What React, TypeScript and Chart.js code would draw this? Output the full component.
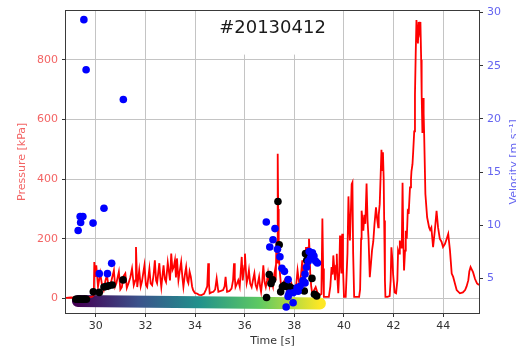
import React, { useEffect, useRef } from "react";
import { Chart, registerables } from "chart.js";

Chart.register(...registerables);

// ---------- data ----------
const pressureTimes = [
  28.8, 29.0, 29.3, 29.6, 29.84, 29.92, 29.94, 29.98, 30.02, 30.09, 30.18, 30.25, 30.32, 30.39, 30.45, 30.52,
  30.59, 30.66, 30.73, 30.78, 30.83, 30.93, 30.99, 31.05, 31.12, 31.19, 31.25, 31.32, 31.39, 31.46, 31.53, 31.59,
  31.62, 31.67, 31.75, 31.81, 31.86, 31.96, 32.02, 32.07, 32.16, 32.21, 32.27, 32.33, 32.38, 32.43, 32.47, 32.56,
  32.6, 32.64, 32.73, 32.78, 32.83, 32.9, 32.94, 32.99, 33.04, 33.09, 33.14, 33.19, 33.23, 33.27, 33.33, 33.38,
  33.44, 33.49, 33.53, 33.59, 33.64, 33.69, 33.73, 33.78, 33.83, 33.88, 33.92, 33.99, 34.06, 34.16, 34.26, 34.36,
  34.43, 34.49, 34.53, 34.56, 34.59, 34.66, 34.74, 34.81, 34.87, 34.91, 34.94, 35.04, 35.13, 35.19, 35.23, 35.26,
  35.29, 35.39, 35.47, 35.53, 35.57, 35.6, 35.63, 35.69, 35.74, 35.8, 35.84, 35.88, 35.92, 35.95, 35.99, 36.01,
  36.05, 36.08, 36.13, 36.17, 36.22, 36.28, 36.33, 36.39, 36.44, 36.49, 36.54, 36.58, 36.62, 36.66, 36.71, 36.75,
  36.8, 36.85, 36.9, 36.94, 37.0, 37.04, 37.08, 37.14, 37.18, 37.22, 37.25, 37.28, 37.31, 37.33, 37.35, 37.37,
  37.42, 37.48, 37.53, 37.61, 37.67, 37.75, 37.81, 37.88, 37.95, 38.02, 38.08, 38.13, 38.18, 38.22, 38.28, 38.32,
  38.36, 38.4, 38.44, 38.47, 38.5, 38.53, 38.56, 38.59, 38.62, 38.64, 38.68, 38.72, 38.78, 38.86, 38.93, 39.02,
  39.09, 39.13, 39.16, 39.19, 39.27, 39.39, 39.45, 39.5, 39.54, 39.57, 39.61, 39.64, 39.68, 39.71, 39.74, 39.77,
  39.81, 39.84, 39.87, 39.9, 39.93, 39.96, 40.0, 40.07, 40.14, 40.18, 40.21, 40.24, 40.28, 40.31, 40.34, 40.37,
  40.41, 40.51, 40.61, 40.65, 40.69, 40.71, 40.75, 40.78, 40.82, 40.86, 40.91, 40.95, 40.99, 41.04, 41.09, 41.13,
  41.18, 41.23, 41.29, 41.33, 41.38, 41.4, 41.44, 41.48, 41.51, 41.54, 41.57, 41.6, 41.62, 41.65, 41.67, 41.75,
  41.84, 41.88, 41.91, 41.95, 41.98, 42.04, 42.1, 42.15, 42.18, 42.22, 42.25, 42.3, 42.33, 42.36, 42.39, 42.42,
  42.46, 42.49, 42.53, 42.57, 42.61, 42.66, 42.7, 42.72, 42.76, 42.79, 42.83, 42.86, 42.89, 42.92, 42.95, 42.98,
  43.01, 43.04, 43.08, 43.11, 43.13, 43.16, 43.19, 43.21, 43.23, 43.28, 43.35, 43.43, 43.47, 43.52, 43.59, 43.66,
  43.73, 43.79, 43.86, 43.93, 43.99, 44.07, 44.14, 44.2, 44.27, 44.34, 44.4, 44.47, 44.54, 44.67, 44.79, 44.88,
  44.94, 45.01, 45.05, 45.1, 45.2, 45.28, 45.36, 45.44,
];
const pressureValues = [
  2, 3, 2, 4, 5, 10, 122, 72, 111, 39, 84, 45, 28, 60, 78, 35,
  44, 70, 94, 40, 51, 89, 30, 38, 75, 84, 35, 51, 70, 100, 44, 60,
  172, 38, 94, 40, 56, 111, 45, 38, 100, 50, 44, 80, 128, 60, 51, 118,
  70, 38, 111, 65, 55, 120, 94, 60, 150, 95, 105, 128, 70, 134, 61, 90,
  122, 70, 39, 80, 105, 60, 51, 90, 72, 40, 28, 18, 17, 12, 11, 15,
  28, 40, 118, 50, 17, 20, 22, 30, 67, 40, 22, 25, 28, 40, 72, 45,
  22, 25, 33, 60, 118, 70, 38, 50, 61, 40, 90, 139, 60, 84, 110, 150,
  90, 51, 70, 94, 50, 38, 60, 84, 45, 33, 55, 72, 40, 22, 60, 111,
  55, 38, 60, 84, 45, 70, 61, 40, 75, 94, 60, 194, 120, 485, 300, 150,
  84, 28, 50, 61, 35, 17, 40, 51, 30, 28, 50, 94, 60, 38, 90, 128,
  80, 61, 120, 172, 140, 105, 170, 200, 150, 84, 40, 17, 25, 38, 20, 11,
  15, 268, 100, 5, 5, 5, 40, 105, 80, 144, 100, 61, 110, 150, 60, 17,
  90, 211, 130, 84, 217, 104, 5, 5, 150, 342, 250, 194, 300, 383, 389, 150,
  5, 5, 5, 30, 200, 294, 260, 227, 280, 250, 385, 261, 200, 71, 120, 161,
  190, 250, 305, 270, 238, 280, 316, 420, 498, 430, 490, 400, 261, 60, 5, 5,
  8, 60, 171, 130, 80, 20, 17, 60, 161, 150, 194, 170, 183, 388, 200, 94,
  160, 227, 200, 294, 290, 372, 400, 427, 450, 494, 560, 683, 820, 933, 890, 855,
  927, 900, 927, 800, 683, 555, 672, 620, 551, 350, 272, 238, 230, 238, 172, 227,
  294, 238, 200, 190, 172, 183, 200, 216, 161, 83, 72, 50, 28, 17, 20, 28,
  40, 61, 90, 105, 88, 65, 50, 45,
];

const peakTimes = [
  29.2, 29.27, 29.34, 29.41, 29.48, 29.55, 29.62, 29.9, 30.14, 30.33, 30.41, 30.52, 30.66, 31.1,
  36.88, 36.99, 37.06, 37.12, 37.34, 37.39, 37.45, 37.52, 37.6, 37.67, 37.8, 37.88, 37.93,
  38.4, 38.45, 38.5, 38.71, 38.81, 38.9,
];
const peakValues = [
  -3, -3, -2, -3, -3, -2, -3, 22, 20, 38, 40, 42, 45, 62,
  3, 80, 50, 62, 325, 180, 22, 39, 44, 40, 39, 35, 30,
  25, 150, 128, 67, 14, 8,
];

const velocityTimes = [
  29.29, 29.37, 29.48, 29.39, 29.52, 29.61, 29.89, 30.33, 30.14, 30.47, 30.64, 31.11,
  36.87, 37.22, 37.14, 37.01, 37.32, 37.42, 37.5, 37.6, 37.75, 37.79, 37.75, 37.67, 37.95, 37.95,
  38.11, 38.23, 38.35, 38.43, 38.49, 38.56, 38.6, 38.73, 38.79, 38.86, 38.93, 38.65, 38.43, 38.15,
];
const velocityValues = [
  9.5, 10.82, 10.82, 10.25, 29.34, 24.63, 10.2, 11.6, 5.44, 5.44, 6.41, 21.82,
  10.3, 9.68, 8.63, 7.95, 7.74, 7.03, 5.94, 5.66, 4.88, 3.6, 3.3, 2.3, 2.7, 3.64,
  4.1, 4.26, 4.8, 5.4, 6.05, 6.6, 7.53, 7.4, 7.1, 6.6, 6.45, 6.92, 4.57, 3.79,
];

// coloured band (time-coded marker trail) end points
const bandTimes = [29.28, 39.03];
const bandValues = [-9, -17];

const timeTicks = [30, 32, 34, 36, 38, 40, 42, 44];
const pressureTicks = [0, 200, 400, 600, 800];
const velocityTicks = [5, 10, 15, 20, 25, 30];

const viridisStops = ["#440154", "#3b528b", "#21918c", "#5ec962", "#fde725"];

const FONT = "'DejaVu Sans', Verdana, sans-serif";
const RED_TEXT = "#f36464";
const BLUE_TEXT = "#6464f0";
const GRID = "#c4c4c4";

const pts = (xs: number[], ys: number[]) => xs.map((x, i) => ({ x, y: ys[i] }));

const decorPlugin = {
  id: "decor",
  beforeDatasetsDraw(chart: any) {
    const { ctx, chartArea } = chart;
    if (!chartArea) return;
    ctx.save();
    ctx.fillStyle = "#ffffff";
    ctx.fillRect(205, chartArea.top, 135, 44);
    ctx.restore();
  },
  afterDraw(chart: any) {
    const { ctx, chartArea } = chart;
    if (!chartArea) return;
    const { left, top, right, bottom } = chartArea;
    ctx.save();
    ctx.strokeStyle = "#3a3a3a";
    ctx.lineWidth = 1;
    ctx.strokeRect(Math.round(left) - 0.5, Math.round(top) - 0.5, Math.round(right - left) + 1, Math.round(bottom - top) + 1);
    ctx.fillStyle = "#1a1a1a";
    ctx.font = `18px ${FONT}`;
    ctx.textAlign = "center";
    ctx.textBaseline = "middle";
    ctx.fillText("#20130412", (left + right) / 2, 28);
    ctx.translate(514, (top + bottom) / 2);
    ctx.rotate(-Math.PI / 2);
    ctx.fillStyle = BLUE_TEXT;
    ctx.font = `11px ${FONT}`;
    ctx.fillText("Velocity [m s⁻¹]", 0, 0);
    ctx.restore();
  },
};

export default function App() {
  const canvasRef = useRef<HTMLCanvasElement | null>(null);

  useEffect(() => {
    const canvas = canvasRef.current;
    if (!canvas) return;
    const tickFont = { family: FONT, size: 11 };
    const chart = new Chart(canvas, {
      type: "line",
      data: {
        datasets: [
          {
            type: "scatter",
            label: "velocity",
            data: pts(velocityTimes, velocityValues),
            yAxisID: "y1",
            backgroundColor: "#0000ff",
            borderWidth: 0,
            pointRadius: 3.8,
            order: 0,
            clip: 0,
          } as any,
          {
            type: "scatter",
            label: "peaks",
            data: pts(peakTimes, peakValues),
            yAxisID: "y",
            backgroundColor: "#000000",
            borderWidth: 0,
            pointRadius: 3.8,
            order: 1,
            clip: 0,
          } as any,
          {
            type: "line",
            label: "pressure",
            data: pts(pressureTimes, pressureValues),
            yAxisID: "y",
            borderColor: "#ff0000",
            borderWidth: 1.8,
            pointRadius: 0,
            tension: 0,
            fill: false,
            order: 2,
            clip: 0,
          } as any,
          {
            type: "line",
            label: "band",
            data: pts(bandTimes, bandValues),
            yAxisID: "y",
            borderWidth: 12,
            borderCapStyle: "round",
            pointRadius: 0,
            fill: false,
            order: 3,
            clip: 0,
            borderColor: (c: any) => {
              const ch = c.chart;
              if (!ch.chartArea || !ch.scales.x) return viridisStops[2];
              const x0 = ch.scales.x.getPixelForValue(bandTimes[0]);
              const x1 = ch.scales.x.getPixelForValue(bandTimes[1]);
              const g = ch.ctx.createLinearGradient(x0, 0, x1, 0);
              viridisStops.forEach((col, i) => g.addColorStop(i / (viridisStops.length - 1), col));
              return g;
            },
          } as any,
        ],
      },
      options: {
        responsive: false,
        animation: false,
        events: [],
        layout: { padding: { top: 10, left: 0, right: 0, bottom: 0 } },
        plugins: { legend: { display: false }, tooltip: { enabled: false }, title: { display: false } },
        scales: {
          x: {
            type: "linear",
            min: 28.8,
            max: 45.44,
            afterBuildTicks: (s: any) => {
              s.ticks = timeTicks.map((v) => ({ value: v }));
            },
            afterFit: (s: any) => {
              s.height = 38;
            },
            border: { display: false },
            grid: { color: GRID, lineWidth: 1, tickLength: 4, tickColor: "#333" },
            ticks: { color: "#333", font: tickFont, padding: 3, maxRotation: 0 },
            title: { display: true, text: "Time [s]", color: "#333", font: tickFont, padding: { top: 0, bottom: 3 } },
          },
          y: {
            type: "linear",
            position: "left",
            min: -49,
            max: 965,
            afterBuildTicks: (s: any) => {
              s.ticks = pressureTicks.map((v) => ({ value: v }));
            },
            afterFit: (s: any) => {
              s.width = 66;
            },
            border: { display: false },
            grid: { color: GRID, lineWidth: 1, tickLength: 4, tickColor: "#333" },
            ticks: { color: RED_TEXT, font: tickFont, padding: 4 },
            title: { display: true, text: "Pressure [kPa]", color: RED_TEXT, font: tickFont, padding: { top: 16, bottom: 0 } },
          },
          y1: {
            type: "linear",
            position: "right",
            min: 1.74,
            max: 30.19,
            afterBuildTicks: (s: any) => {
              s.ticks = velocityTicks.map((v) => ({ value: v }));
            },
            afterFit: (s: any) => {
              s.width = 37;
            },
            border: { display: false },
            grid: { drawOnChartArea: false, tickLength: 4, tickColor: "#333" },
            ticks: { color: BLUE_TEXT, font: tickFont, padding: 4 },
          },
        },
      } as any,
      plugins: [decorPlugin],
    });
    return () => chart.destroy();
  }, []);

  return (
    <div style={{ position: "fixed", left: 0, top: 0, width: 516, height: 351, background: "#fff" }}>
      <canvas ref={canvasRef} width={516} height={351} style={{ display: "block", width: 516, height: 351 }} />
    </div>
  );
}
